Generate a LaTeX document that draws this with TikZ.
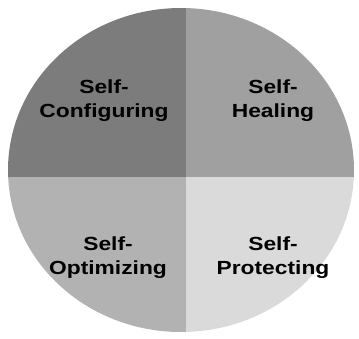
\documentclass[tikz,border=0pt]{standalone}
\usepackage{fontspec}
\setmainfont{Liberation Sans}
\newfontfamily\labelfont[FakeStretch=1.2]{Liberation Sans}
\usetikzlibrary{calc}
\definecolor{confgray}{HTML}{7C7C7C}
\definecolor{healgray}{HTML}{A0A0A0}
\definecolor{optgray}{HTML}{B2B2B2}
\definecolor{protgray}{HTML}{DADADA}
\begin{document}
\begin{tikzpicture}[x=1pt,y=-1pt,
  font=\labelfont\bfseries\fontsize{19}{24}\selectfont,
  label/.style={align=center,inner sep=0pt,text=black}
]
\useasboundingbox (0,0) rectangle (359,338);
% Four quadrants cut out of one ellipse.
\coordinate (mid) at (186,177);
\begin{scope}
  \clip (181,170) ellipse [x radius=173,y radius=162];
  \fill[confgray] (0,0) rectangle (mid);
  \fill[healgray] (mid |- 0,0) rectangle (359,177);
  \fill[optgray] (0,177) rectangle (186,338);
  \fill[protgray] (mid) rectangle (359,338);
\end{scope}
% Quadrant labels.
\node[label] (selfconf) at (104,101) {Self-\\Configuring};
\node[label] (selfheal) at (273,101) {Self-\\Healing};
\node[label] (selfopt) at (108,258) {Self-\\Optimizing};
\node[label] (selfprot) at (273,258) {Self-\\Protecting};
\end{tikzpicture}
\end{document}
